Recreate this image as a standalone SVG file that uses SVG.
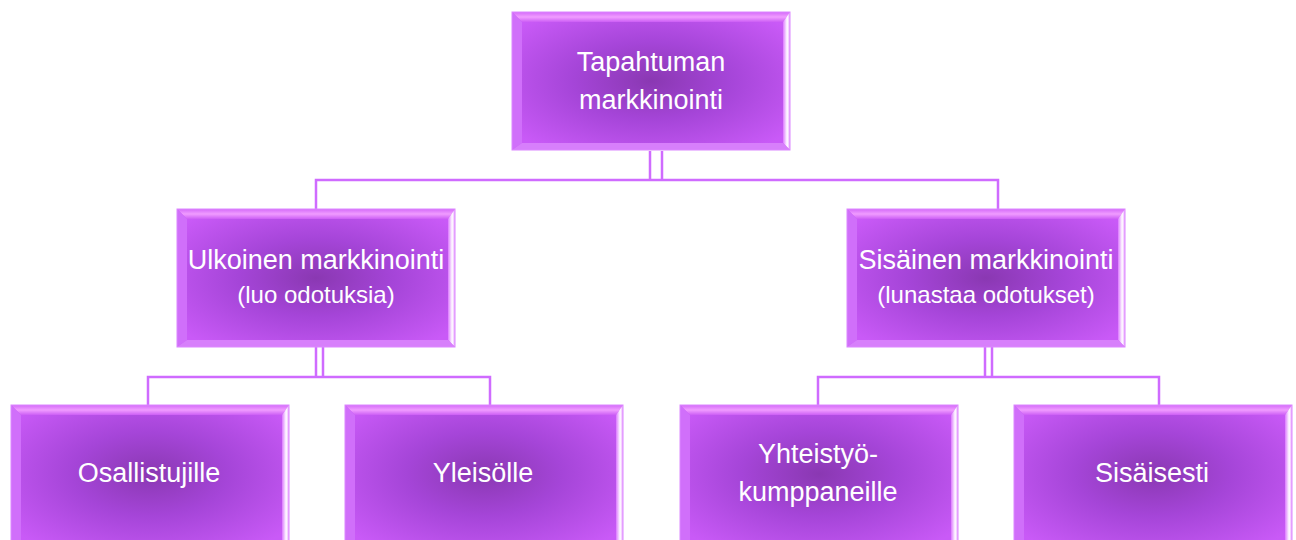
<svg xmlns="http://www.w3.org/2000/svg" xmlns:xlink="http://www.w3.org/1999/xlink" width="1296" height="540" viewBox="0 0 1296 540">
<style>
.lbl{font-family:"Liberation Sans",Arial,sans-serif;fill:#ffffff;text-anchor:middle;font-size:27px}
.sub{font-size:24px}
.con{fill:none;stroke:#cf6bff;stroke-width:2.5}
</style>
<defs>
<radialGradient id="rg" cx="0.5" cy="0.5" r="0.62">
<stop offset="0" stop-color="#8a38b2"/>
<stop offset="0.45" stop-color="#a545d8"/>
<stop offset="1" stop-color="#c95af7"/>
</radialGradient>
<radialGradient id="rg2" cx="0.5" cy="0.46" r="0.62">
<stop offset="0" stop-color="#8a38b2"/>
<stop offset="0.45" stop-color="#a545d8"/>
<stop offset="1" stop-color="#c95af7"/>
</radialGradient>
<linearGradient id="topg" x1="0" y1="0" x2="0" y2="1">
<stop offset="0" stop-color="#d46af9"/>
<stop offset="0.5" stop-color="#f09cff"/>
<stop offset="1" stop-color="#cc5ef5"/>
</linearGradient>
<linearGradient id="rtg" x1="0" y1="0" x2="1" y2="0">
<stop offset="0" stop-color="#dc78ff"/>
<stop offset="0.6" stop-color="#ffffff"/>
<stop offset="1" stop-color="#e8a0ff"/>
</linearGradient>
<g id="box">
<rect x="0" y="0" width="278" height="138" fill="url(#rg)"/>
<polygon points="0,0 278,0 271,10 10,10" fill="url(#topg)"/>
<polygon points="0,0 10,10 10,131 0,138" fill="#d06ffa"/>
<polygon points="278,0 278,138 271,131 271,10" fill="url(#rtg)"/>
<polygon points="0,138 278,138 271,131 10,131" fill="#d77ffb"/>
<rect x="0" y="0" width="278" height="138" fill="none" stroke="#dc88ff" stroke-width="1"/>
</g>
<g id="boxb">
<rect x="0" y="0" width="278" height="150" fill="url(#rg2)"/>
<polygon points="0,0 278,0 271,10 10,10" fill="url(#topg)"/>
<polygon points="0,0 10,10 10,150 0,150" fill="#d06ffa"/>
<polygon points="278,0 278,150 271,150 271,10" fill="url(#rtg)"/>
<rect x="0" y="0" width="278" height="150" fill="none" stroke="#dc88ff" stroke-width="1"/>
</g>
</defs>
<rect width="1296" height="540" fill="#ffffff"/>
<g id="connectors">
<path class="con" d="M650,151 V181 M662,151 V181"/>
<path class="con" d="M316,209 V180 H998 V209"/>
<path class="con" d="M316,347 V378 M323,347 V378"/>
<path class="con" d="M148,405 V377 H490 V405"/>
<path class="con" d="M985,347 V378 M992,347 V378"/>
<path class="con" d="M818,405 V377 H1159 V405"/>
</g>
<g id="n-top">
<use xlink:href="#box" x="512" y="12"/>
<text class="lbl" x="651" y="71">Tapahtuman</text>
<text class="lbl" x="651" y="109">markkinointi</text>
</g>
<g id="n-ulkoinen">
<use xlink:href="#box" x="177" y="209"/>
<text class="lbl" x="316" y="269">Ulkoinen markkinointi</text>
<text class="lbl sub" x="316" y="303">(luo odotuksia)</text>
</g>
<g id="n-sisainen">
<use xlink:href="#box" x="847" y="209"/>
<text class="lbl" x="986" y="269">Sisäinen markkinointi</text>
<text class="lbl sub" x="986" y="303">(lunastaa odotukset)</text>
</g>
<g id="n-osallistujille">
<use xlink:href="#boxb" x="11" y="405"/>
<text class="lbl" x="149" y="482">Osallistujille</text>
</g>
<g id="n-yleisolle">
<use xlink:href="#boxb" x="345" y="405"/>
<text class="lbl" x="483" y="482">Yleisölle</text>
</g>
<g id="n-yhteistyo">
<use xlink:href="#boxb" x="680" y="405"/>
<text class="lbl" x="818" y="463">Yhteistyö-</text>
<text class="lbl" x="818" y="501">kumppaneille</text>
</g>
<g id="n-sisaisesti">
<use xlink:href="#boxb" x="1014" y="405"/>
<text class="lbl" x="1152" y="482">Sisäisesti</text>
</g>
</svg>
